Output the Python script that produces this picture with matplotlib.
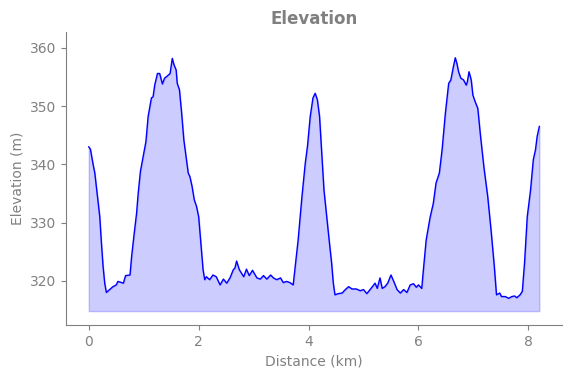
import matplotlib
matplotlib.use("Agg")
import matplotlib.pyplot as plt
import numpy as np

distance_km = [
    0.00, 0.03, 0.08, 0.11, 0.15, 0.20, 0.23, 0.26, 0.29, 0.32, 0.38, 0.44, 0.50, 0.53,
    0.63, 0.67, 0.75, 0.78, 0.82, 0.87, 0.90, 0.94, 0.99, 1.04, 1.08, 1.14, 1.17, 1.20,
    1.25, 1.29, 1.34, 1.38, 1.42, 1.48, 1.52, 1.55, 1.59, 1.61, 1.65, 1.69, 1.73, 1.77,
    1.81, 1.84, 1.88, 1.92, 1.96, 2.00, 2.02, 2.05, 2.08, 2.11, 2.14, 2.20, 2.26, 2.32,
    2.39, 2.45, 2.51, 2.57, 2.63, 2.66, 2.69, 2.74, 2.78, 2.82, 2.87, 2.92, 2.98, 3.06,
    3.12, 3.18, 3.24, 3.31, 3.36, 3.42, 3.49, 3.54, 3.60, 3.66, 3.72, 3.75, 3.81, 3.88,
    3.94, 3.98, 4.03, 4.08, 4.12, 4.16, 4.20, 4.24, 4.28, 4.33, 4.38, 4.42, 4.45, 4.48,
    4.54, 4.61, 4.67, 4.73, 4.79, 4.87, 4.94, 5.00, 5.06, 5.12, 5.17, 5.21, 5.25, 5.30,
    5.34, 5.39, 5.44, 5.50, 5.55, 5.61, 5.67, 5.73, 5.79, 5.85, 5.91, 5.96, 6.00, 6.06,
    6.09, 6.14, 6.21, 6.27, 6.32, 6.38, 6.43, 6.49, 6.55, 6.59, 6.63, 6.67, 6.70, 6.73,
    6.77, 6.82, 6.87, 6.89, 6.92, 6.96, 6.99, 7.03, 7.08, 7.13, 7.19, 7.26, 7.32, 7.38,
    7.42, 7.48, 7.51, 7.58, 7.64, 7.70, 7.75, 7.79, 7.85, 7.89, 7.93, 7.98, 8.04, 8.09,
    8.13, 8.16, 8.20,
]
elevation_m = [
    343.0, 342.6, 339.9, 338.5, 335.1, 331.0, 326.5, 322.5, 319.6, 318.0, 318.5, 319.0, 319.3, 319.9,
    319.6, 320.9, 321.0, 324.2, 327.6, 331.6, 335.1, 338.8, 341.3, 343.9, 348.2, 351.4, 351.6, 353.6,
    355.6, 355.6, 353.8, 354.8, 355.1, 355.6, 358.2, 357.1, 356.2, 353.9, 352.8, 348.8, 344.2, 341.3,
    338.5, 337.9, 336.2, 333.9, 332.8, 331.0, 328.8, 325.3, 321.9, 320.2, 320.7, 320.2, 321.0, 320.7,
    319.3, 320.3, 319.6, 320.5, 321.9, 322.2, 323.4, 321.9, 321.3, 320.7, 322.0, 320.9, 321.8, 320.5,
    320.3, 320.9, 320.3, 321.0, 320.5, 320.2, 320.5, 319.7, 319.9, 319.7, 319.3, 321.9, 327.0, 334.5,
    340.2, 343.1, 348.2, 351.4, 352.2, 351.1, 348.2, 341.9, 335.6, 331.0, 326.5, 323.0, 319.6, 317.6,
    317.8, 317.9, 318.5, 319.0, 318.6, 318.6, 318.3, 318.5, 317.8, 318.5, 319.1, 319.6, 318.7, 320.5,
    318.7, 319.0, 319.6, 321.0, 319.9, 318.5, 317.9, 318.5, 318.0, 319.3, 319.5, 318.9, 319.3, 318.7,
    321.9, 327.0, 330.8, 333.3, 336.8, 338.5, 342.5, 348.8, 353.9, 354.5, 356.5, 358.3, 357.3, 355.9,
    354.8, 354.5, 353.6, 354.2, 355.9, 354.5, 351.9, 350.8, 349.6, 344.8, 339.6, 334.5, 328.8, 322.5,
    317.6, 317.9, 317.3, 317.3, 317.0, 317.3, 317.4, 317.1, 317.6, 318.2, 323.0, 331.0, 335.6, 340.8,
    342.5, 344.8, 346.5,
]
fill_base_m = 314.8
y_ticks = [320, 330, 340, 350, 360]
x_ticks = [0, 2, 4, 6, 8]

gray = "#808080"
fig, ax = plt.subplots(figsize=(5.71, 3.78), dpi=100)
ax.plot(distance_km, elevation_m, color="blue", linewidth=1)
ax.fill_between(distance_km, elevation_m, fill_base_m, color="blue", alpha=0.2)
ax.set_ylim(312.4, 362.7)
ax.set_yticks(y_ticks)
ax.set_xticks(x_ticks)
ax.set_title("Elevation", color=gray, fontweight="bold", fontsize=12)
ax.set_xlabel("Distance (km)", color=gray)
ax.set_ylabel("Elevation (m)", color=gray)
for s in ["top", "right"]:
    ax.spines[s].set_visible(False)
for s in ["left", "bottom"]:
    ax.spines[s].set_color(gray)
ax.tick_params(colors=gray, labelcolor=gray)
fig.subplots_adjust(left=0.116, right=0.984, top=0.915, bottom=0.14)
fig.savefig("out.png", dpi=100)
